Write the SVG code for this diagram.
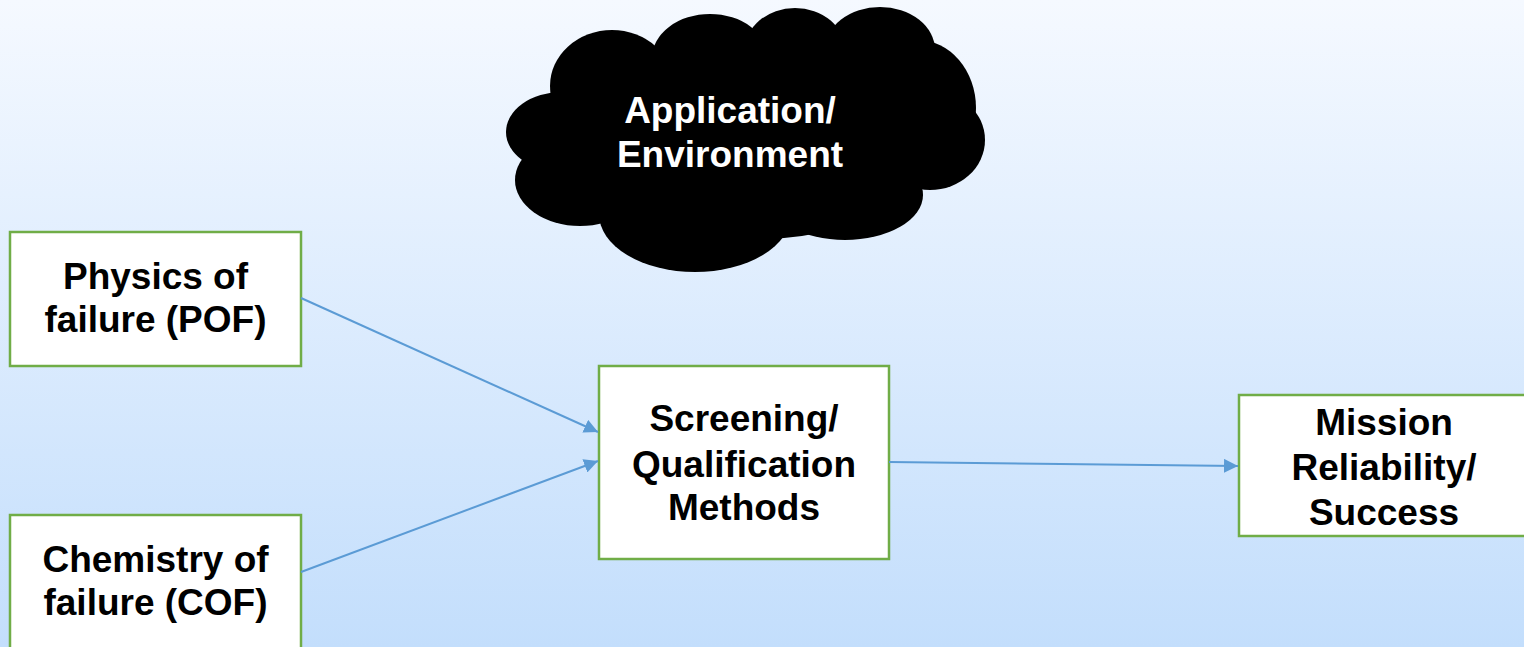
<svg xmlns="http://www.w3.org/2000/svg" width="1524" height="647" viewBox="0 0 1524 647">
<defs>
<linearGradient id="bg" x1="0" y1="0" x2="0" y2="1">
<stop offset="0" stop-color="#F5F9FF"/>
<stop offset="1" stop-color="#C3DEFC"/>
</linearGradient>
<marker id="ah" viewBox="0 0 10 10" refX="10" refY="5" markerWidth="7" markerHeight="7" markerUnits="strokeWidth" orient="auto">
<path d="M0,0 L10,5 L0,10 z" fill="#5B9BD5"/>
</marker>
<style>
.box{fill:#FFFFFF;stroke:#70AD47;stroke-width:2.5}
.t{font-family:"Liberation Sans",Arial,sans-serif;font-weight:bold;font-size:37px;text-anchor:middle;fill:#000}
.tw{fill:#FFFFFF}
.c{stroke:#5B9BD5;stroke-width:2;fill:none;marker-end:url(#ah)}
</style>
</defs>
<rect width="1524" height="647" fill="url(#bg)"/>
<g id="cloud" fill="#000">
<ellipse cx="562" cy="132" rx="56" ry="40"/>
<ellipse cx="612" cy="86" rx="62" ry="56"/>
<ellipse cx="710" cy="58" rx="58" ry="44"/>
<ellipse cx="795" cy="50" rx="50" ry="42"/>
<ellipse cx="880" cy="50" rx="55" ry="43"/>
<ellipse cx="918" cy="108" rx="58" ry="68"/>
<ellipse cx="930" cy="140" rx="55" ry="50"/>
<ellipse cx="845" cy="195" rx="78" ry="45"/>
<ellipse cx="695" cy="214" rx="96" ry="58"/>
<ellipse cx="580" cy="180" rx="65" ry="46"/>
<ellipse cx="745" cy="140" rx="200" ry="100"/>
<text class="t tw" x="730" y="123">Application/</text>
<text class="t tw" x="730" y="167">Environment</text>
</g>
<g id="pof">
<rect class="box" x="10" y="232" width="291" height="134"/>
<text class="t" x="155.5" y="289">Physics of</text>
<text class="t" x="155.5" y="332">failure (POF)</text>
</g>
<g id="cof">
<rect class="box" x="10" y="515" width="291" height="150"/>
<text class="t" x="155.5" y="572">Chemistry of</text>
<text class="t" x="155.5" y="615">failure (COF)</text>
</g>
<g id="screening">
<rect class="box" x="599" y="366" width="290" height="193"/>
<text class="t" x="744" y="431">Screening/</text>
<text class="t" x="744" y="477">Qualification</text>
<text class="t" x="744" y="520">Methods</text>
</g>
<g id="mission">
<rect class="box" x="1239" y="395" width="292" height="141"/>
<text class="t" x="1384" y="435">Mission</text>
<text class="t" x="1384" y="480">Reliability/</text>
<text class="t" x="1384" y="525">Success</text>
</g>
<g id="connectors">
<line class="c" x1="301" y1="298" x2="598" y2="432"/>
<line class="c" x1="301" y1="572" x2="598" y2="461"/>
<line class="c" x1="889" y1="462" x2="1238" y2="466"/>
</g>
</svg>
